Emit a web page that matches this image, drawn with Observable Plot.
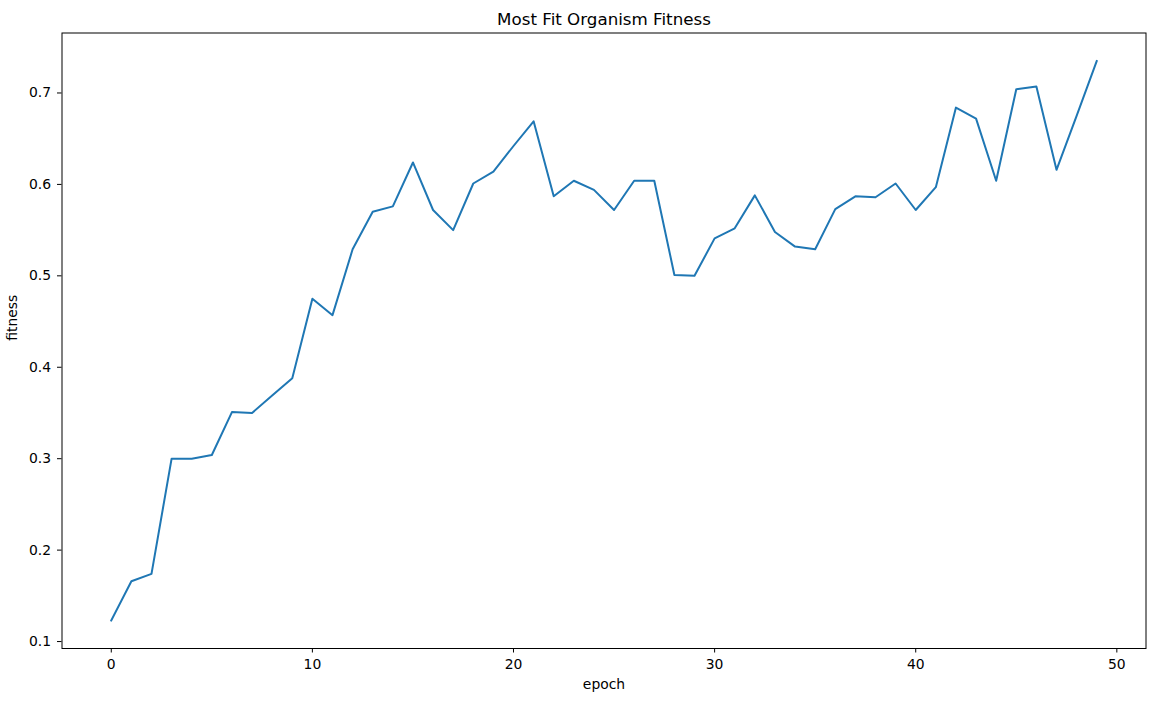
<!DOCTYPE html>
<html>
<head>
<meta charset="utf-8">
<script src="https://cdn.jsdelivr.net/npm/d3@7"></script>
<script src="https://cdn.jsdelivr.net/npm/@observablehq/plot@0.6"></script>
<style>
  html, body { margin: 0; padding: 0; background: #fff; }
  #chart svg { display: block; }
</style>
</head>
<body>
<div id="chart"></div>
<script>
const title = "Most Fit Organism Fitness";
const xLabel = "epoch";
const yLabel = "fitness";
const epochs = [0,1,2,3,4,5,6,7,8,9,10,11,12,13,14,15,16,17,18,19,20,21,22,23,24,25,26,27,28,29,30,31,32,33,34,35,36,37,38,39,40,41,42,43,44,45,46,47,48,49];
const fitness = [0.123,0.166,0.174,0.300,0.300,0.304,0.351,0.350,0.369,0.388,
                 0.475,0.457,0.529,0.570,0.576,0.624,0.572,0.550,0.601,0.614,
                 0.642,0.669,0.587,0.604,0.594,0.572,0.604,0.604,0.501,0.500,
                 0.541,0.552,0.588,0.548,0.532,0.529,0.573,0.587,0.586,0.601,
                 0.572,0.597,0.684,0.672,0.604,0.704,0.707,0.616,0.675,0.735];
const xTicks = [0,10,20,30,40,50];
const yTicks = [0.1,0.2,0.3,0.4,0.5,0.6,0.7];

const data = epochs.map((e, i) => ({epoch: e, fitness: fitness[i]}));

function padded(arr) {
  const lo = d3.min(arr), hi = d3.max(arr), p = (hi - lo) * 0.05;
  return [lo - p, hi + p];
}

const font = "DejaVu Sans, sans-serif";
const fs = 13.9;
const chart = Plot.plot({
  width: 1156,
  height: 701,
  marginTop: 32.5,
  marginLeft: 61.5,
  marginRight: 10.5,
  marginBottom: 53,
  style: {fontFamily: font, fontSize: fs + "px", color: "#000", background: "#fff"},
  x: {domain: padded(epochs)},
  y: {domain: padded(fitness)},
  marks: [
    Plot.axisX({ticks: xTicks, tickSize: 4.5, tickPadding: 6.5, tickFormat: d3.format("d"), label: null, fontSize: fs}),
    Plot.axisY({ticks: yTicks, tickSize: 4.5, tickPadding: 6.5, tickFormat: d3.format(".1f"), label: null, fontSize: fs}),
    Plot.line(data, {x: "epoch", y: "fitness", stroke: "#1f77b4", strokeWidth: 2, strokeLinejoin: "round", strokeLinecap: "square"}),
    Plot.frame({stroke: "#000", strokeWidth: 1}),
    Plot.text([title], {frameAnchor: "top", lineAnchor: "middle", dy: -13.8, fontSize: 16.7, fill: "#000"}),
    Plot.text([xLabel], {frameAnchor: "bottom", lineAnchor: "middle", dy: 36.5, fontSize: fs, fill: "#000"}),
    Plot.text([yLabel], {frameAnchor: "left", lineAnchor: "middle", dx: -49.2, rotate: -90, fontSize: fs, fill: "#000"})
  ]
});
document.getElementById("chart").appendChild(chart);
</script>
</body>
</html>
